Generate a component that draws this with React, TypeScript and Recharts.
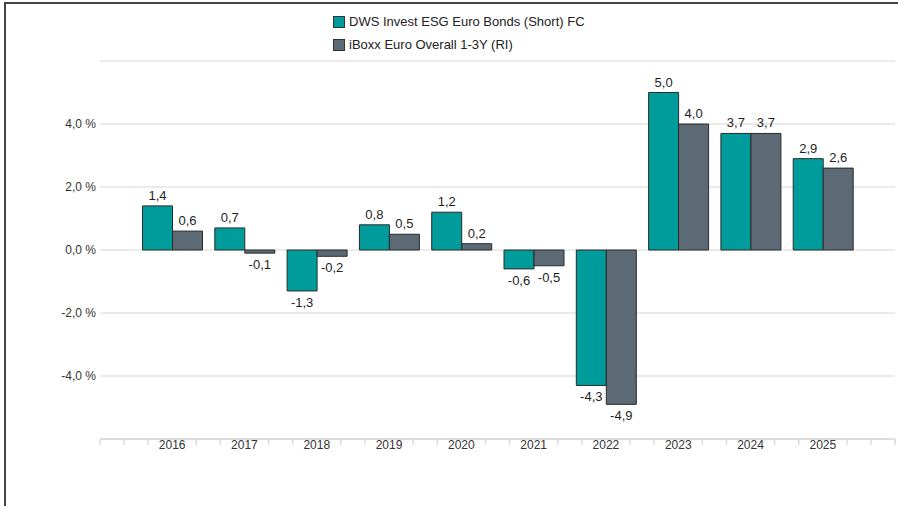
import React from "react";
import { BarChart, Bar, XAxis, YAxis, CartesianGrid, Legend, LabelList } from "recharts";

const years = ["2016", "2017", "2018", "2019", "2020", "2021", "2022", "2023", "2024", "2025"];
const fundValues = [1.4, 0.7, -1.3, 0.8, 1.2, -0.6, -4.3, 5.0, 3.7, 2.9];
const indexValues = [0.6, -0.1, -0.2, 0.5, 0.2, -0.5, -4.9, 4.0, 3.7, 2.6];
const fundName = "DWS Invest ESG Euro Bonds (Short) FC";
const indexName = "iBoxx Euro Overall 1-3Y (RI)";
const yTicks = [-6, -4, -2, 0, 2, 4, 6];

const TEAL = "#009c9c";
const GREY = "#5b6a74";
const FONT = "'Liberation Sans', Arial, sans-serif";

const data = years.map((year, i) => ({ year, fund: fundValues[i], index: indexValues[i] }));

const fmt = (v: number) => v.toFixed(1).replace(".", ",");

// minor tick spacing = a third of a category band
const STEP = 24.1;

const YearTick = (props: any) => {
    const { x, y, payload, index } = props;
    const axisY = y;
    let offsets = [-STEP, STEP];
    if (index === 0) offsets = offsets.concat([-2 * STEP, -3 * STEP]);
    if (index === years.length - 1) offsets = offsets.concat([2 * STEP, 3 * STEP]);
    return (
        <g>
            {offsets.map((o, i) => (
                <line key={i} x1={x + o} x2={x + o} y1={axisY} y2={axisY + 6} stroke="#dcdcdc" strokeWidth={1.5} />
            ))}
            <text x={x} y={axisY + 10} textAnchor="middle" fontSize={12} fill="#333" fontFamily={FONT}>
                {payload.value}
            </text>
        </g>
    );
};

const BarValue = (props: any) => {
    const { x, y, width, height, value } = props;
    const top = Math.min(y, y + height);
    const bottom = Math.max(y, y + height);
    const ty = value >= 0 ? top - 6 : bottom + 16;
    return (
        <text x={x + width / 2} y={ty} textAnchor="middle" fontSize={13} fill="#1e1e1e" fontFamily={FONT}>
            {fmt(value)}
        </text>
    );
};

const LegendBox = () => (
    <div style={{ fontFamily: FONT, fontSize: 13, color: "#222" }}>
        {[
            { name: fundName, color: TEAL },
            { name: indexName, color: GREY },
        ].map((item) => (
            <div key={item.name} style={{ display: "flex", alignItems: "center", height: 23 }}>
                <span style={{ display: "inline-block", width: 10, height: 10, background: item.color, border: "1px solid #333", marginRight: 4 }} />
                <span>{item.name}</span>
            </div>
        ))}
    </div>
);

const App: React.FC = () => {
    return (
        <div style={{ position: "fixed", left: 0, top: 0, width: 898, height: 506, background: "#fff" }}>
            <div style={{ position: "absolute", left: 4, top: 2, right: 0, bottom: 0, borderLeft: "2px solid #444", borderTop: "2px solid #444" }} />
            <BarChart
                width={898}
                height={506}
                data={data}
                margin={{ top: 61, right: 3, bottom: 37, left: 0 }}
                barGap={0}
                barCategoryGap="9%"
                style={{ position: "absolute", left: 0, top: 0 }}
            >
                <CartesianGrid vertical={false} stroke="#e4e4e4" strokeWidth={1.5} />
                <XAxis
                    dataKey="year"
                    height={30}
                    padding={{ left: 36, right: 36 }}
                    tickLine={false}
                    tickSize={0}
                    tickMargin={0}
                    axisLine={{ stroke: "#dcdcdc", strokeWidth: 2 }}
                    tick={<YearTick />}
                    interval={0}
                />
                <YAxis
                    width={100}
                    domain={[-6, 6]}
                    ticks={yTicks}
                    axisLine={false}
                    tickLine={false}
                    tickSize={0}
                    tickMargin={4}
                    tick={{ fontSize: 12, fill: "#333", fontFamily: FONT }}
                    tickFormatter={(v: number) => (Math.abs(v) === 6 ? "" : fmt(v) + " %")}
                />
                <Legend
                    layout="vertical"
                    align="center"
                    verticalAlign="middle"
                    wrapperStyle={{ top: 10, left: 333, width: 320 }}
                    content={<LegendBox />}
                />
                <Bar dataKey="fund" name={fundName} fill={TEAL} stroke="#2a2a2a" strokeWidth={1} isAnimationActive={false}>
                    <LabelList dataKey="fund" content={<BarValue />} />
                </Bar>
                <Bar dataKey="index" name={indexName} fill={GREY} stroke="#2a2a2a" strokeWidth={1} isAnimationActive={false}>
                    <LabelList dataKey="index" content={<BarValue />} />
                </Bar>
            </BarChart>
        </div>
    );
};

export default App;
